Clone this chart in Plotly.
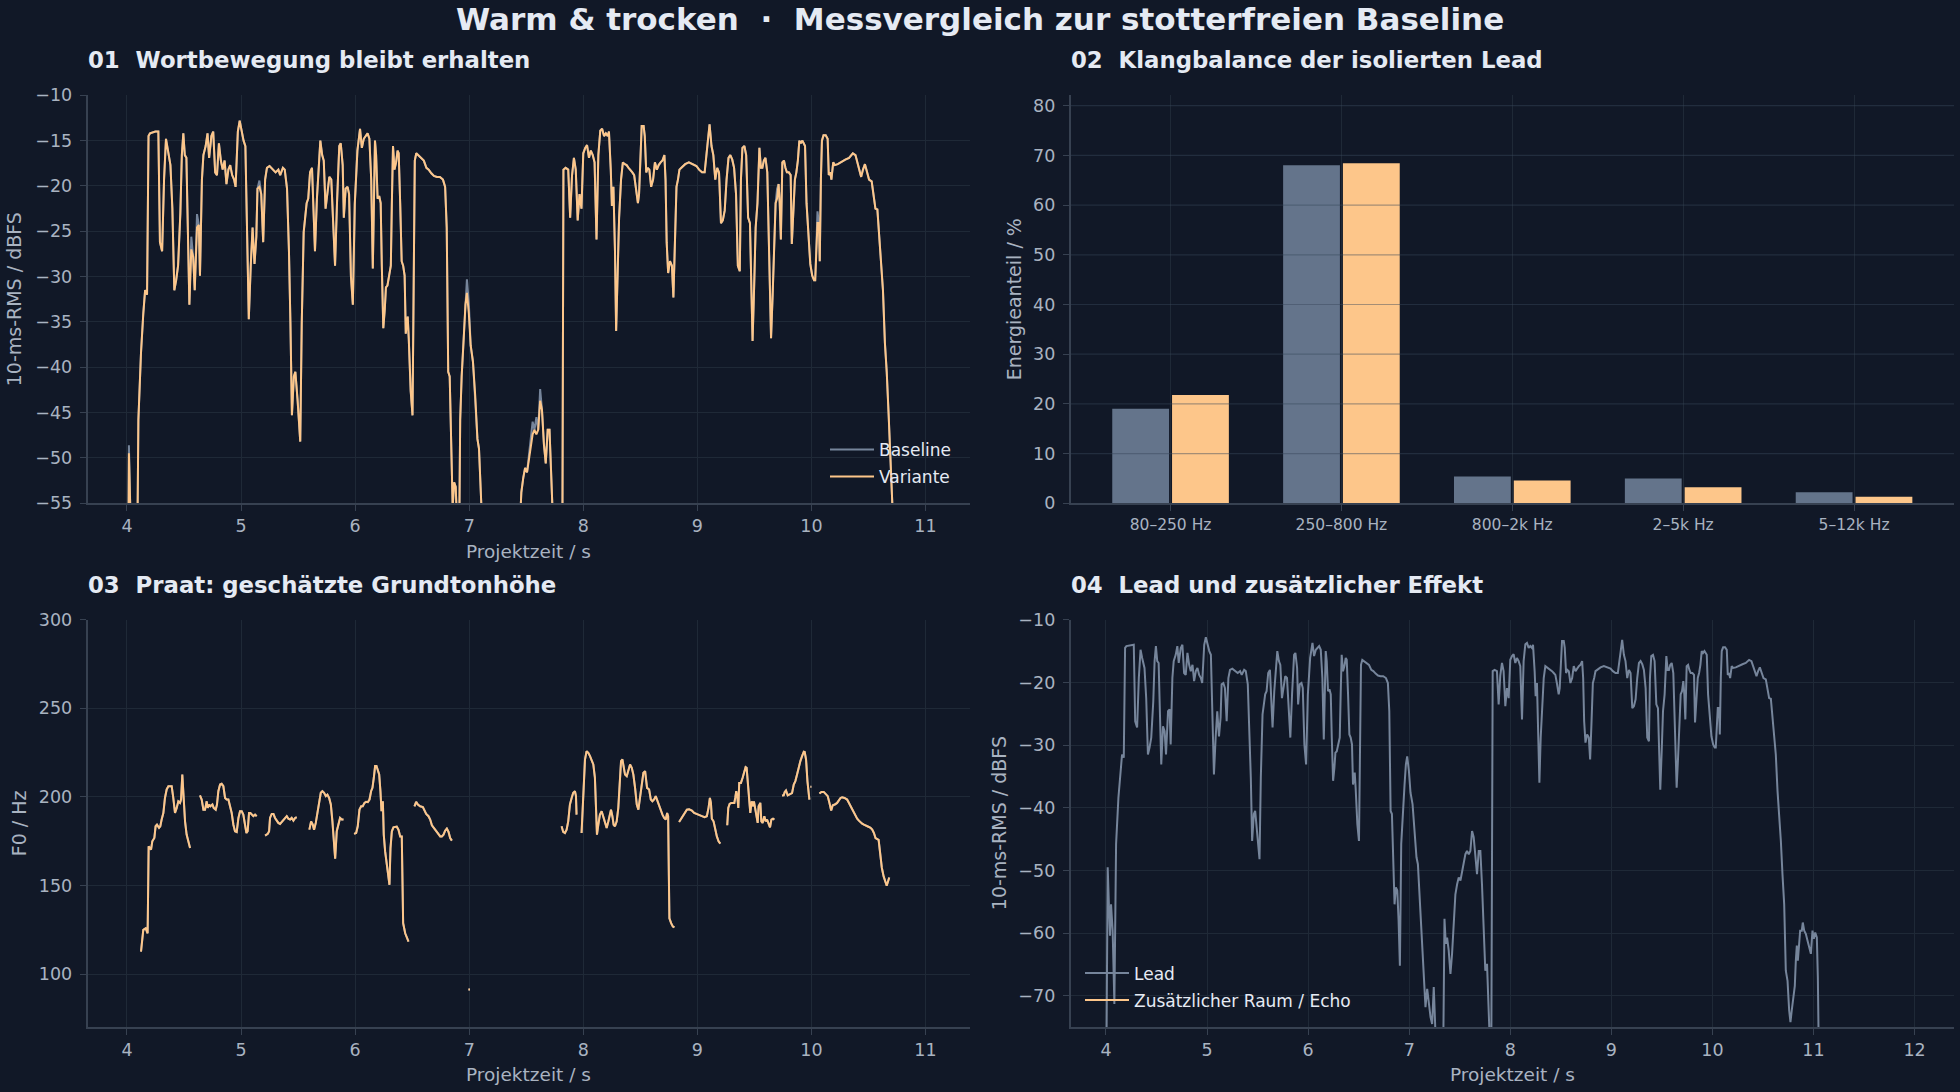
import plotly.graph_objects as go

# ---------------- data ----------------
RMS_T = [
    4.000, 4.017, 4.030, 4.040, 4.050, 4.066, 4.083, 4.100, 4.123, 4.143,
    4.159, 4.176, 4.189, 4.202, 4.249, 4.275, 4.289, 4.308, 4.325, 4.342,
    4.358, 4.381, 4.398, 4.415, 4.431, 4.448, 4.468, 4.481, 4.494, 4.507,
    4.521, 4.534, 4.547, 4.564, 4.580, 4.594, 4.614, 4.630, 4.640, 4.657,
    4.670, 4.690, 4.706, 4.720, 4.740, 4.756, 4.773, 4.789, 4.806, 4.823,
    4.839, 4.856, 4.872, 4.889, 4.905, 4.922, 4.939, 4.952, 4.972, 4.988,
    5.005, 5.022, 5.038, 5.051, 5.068, 5.085, 5.101, 5.118, 5.134, 5.144,
    5.161, 5.177, 5.194, 5.211, 5.227, 5.250, 5.277, 5.303, 5.327, 5.343,
    5.367, 5.383, 5.403, 5.420, 5.433, 5.446, 5.463, 5.476, 5.496, 5.519,
    5.532, 5.549, 5.562, 5.575, 5.589, 5.605, 5.622, 5.635, 5.648, 5.665,
    5.682, 5.695, 5.711, 5.725, 5.741, 5.758, 5.774, 5.791, 5.808, 5.824,
    5.841, 5.861, 5.874, 5.891, 5.901, 5.917, 5.934, 5.947, 5.963, 5.980,
    5.997, 6.020, 6.043, 6.059, 6.076, 6.092, 6.109, 6.125, 6.141, 6.155,
    6.164, 6.174, 6.184, 6.197, 6.211, 6.224, 6.234, 6.247, 6.260, 6.270,
    6.283, 6.299, 6.313, 6.322, 6.332, 6.345, 6.359, 6.372, 6.382, 6.395,
    6.408, 6.421, 6.434, 6.444, 6.461, 6.470, 6.487, 6.503, 6.513, 6.523,
    6.536, 6.553, 6.576, 6.602, 6.625, 6.645, 6.668, 6.691, 6.717, 6.743,
    6.770, 6.789, 6.803, 6.816, 6.829, 6.842, 6.855, 6.868, 6.882, 6.895,
    6.908, 6.921, 6.934, 6.954, 6.967, 6.980, 6.997, 7.013, 7.033, 7.053,
    7.072, 7.086, 7.105, 7.125, 7.145, 7.161, 7.178, 7.191, 7.211, 7.227,
    7.243, 7.260, 7.276, 7.336, 7.349, 7.362, 7.375, 7.391, 7.408, 7.424,
    7.441, 7.457, 7.474, 7.490, 7.507, 7.539, 7.556, 7.572, 7.589, 7.605,
    7.622, 7.638, 7.655, 7.671, 7.688, 7.704, 7.720, 7.737, 7.753, 7.770,
    7.786, 7.803, 7.812, 7.826, 7.845, 7.868, 7.885, 7.901, 7.918, 7.934,
    7.951, 7.967, 7.984, 8.000, 8.017, 8.033, 8.050, 8.066, 8.083, 8.099,
    8.116, 8.132, 8.149, 8.165, 8.182, 8.198, 8.215, 8.225, 8.241, 8.251,
    8.264, 8.278, 8.288, 8.301, 8.314, 8.331, 8.347, 8.364, 8.380, 8.397,
    8.413, 8.430, 8.446, 8.463, 8.479, 8.489, 8.499, 8.512, 8.529, 8.539,
    8.552, 8.565, 8.579, 8.595, 8.612, 8.628, 8.645, 8.661, 8.678, 8.694,
    8.711, 8.721, 8.731, 8.744, 8.760, 8.777, 8.790, 8.803, 8.817, 8.830,
    8.843, 8.860, 8.893, 8.926, 8.959, 8.992, 9.015, 9.041, 9.064, 9.081,
    9.098, 9.107, 9.124, 9.140, 9.157, 9.174, 9.190, 9.207, 9.223, 9.240,
    9.256, 9.273, 9.289, 9.306, 9.322, 9.339, 9.355, 9.372, 9.382, 9.395,
    9.412, 9.428, 9.445, 9.461, 9.474, 9.484, 9.498, 9.511, 9.527, 9.544,
    9.557, 9.570, 9.583, 9.597, 9.613, 9.626, 9.636, 9.646, 9.660, 9.673,
    9.686, 9.699, 9.712, 9.722, 9.732, 9.745, 9.759, 9.772, 9.785, 9.802,
    9.818, 9.828, 9.841, 9.855, 9.868, 9.881, 9.894, 9.907, 9.921, 9.934,
    9.944, 9.957, 9.974, 9.990, 10.007, 10.023, 10.033, 10.043, 10.053, 10.066,
    10.073, 10.083, 10.092, 10.106, 10.125, 10.142, 10.152, 10.165, 10.175, 10.191,
    10.205, 10.231, 10.264, 10.297, 10.330, 10.347, 10.363, 10.386, 10.403, 10.422,
    10.436, 10.452, 10.469, 10.488, 10.505, 10.528, 10.545, 10.561, 10.578, 10.594,
    10.611, 10.627, 10.644, 10.660, 10.677, 10.693, 10.710, 10.726, 10.743, 10.759,
    10.772, 10.785, 10.799, 10.815, 10.825, 10.835, 10.845, 10.855, 10.868, 10.884,
    10.894, 10.908, 10.924, 10.941, 10.957, 10.974, 10.990, 11.003, 11.017, 11.033,
    11.043, 11.053,
]

# Variante / Lead, 10-ms RMS in dBFS
VARIANTE_DB = [
    -90.0, -49.5, -56.0, -60.4, -55.4, -59.6, -71.3, -45.8, -38.4, -34.1,
    -31.5, -32.0, -14.5, -14.2, -14.0, -14.0, -26.2, -27.2, -19.3, -14.8,
    -16.1, -17.7, -22.5, -31.5, -30.4, -28.8, -23.0, -16.6, -14.2, -16.6,
    -16.9, -27.2, -33.1, -27.0, -27.8, -31.5, -24.6, -24.3, -29.9, -19.3,
    -16.6, -15.6, -14.2, -16.9, -14.5, -14.0, -18.5, -18.8, -15.3, -17.2,
    -18.2, -17.2, -19.8, -18.2, -17.7, -18.8, -19.3, -20.1, -14.0, -12.8,
    -14.0, -15.0, -15.6, -24.6, -34.7, -28.8, -24.6, -28.6, -25.6, -20.3,
    -20.1, -20.9, -26.2, -19.3, -18.0, -17.8, -18.2, -18.5, -18.2, -18.8,
    -18.0, -18.2, -20.3, -27.2, -35.2, -45.3, -41.0, -40.5, -43.7, -48.2,
    -35.2, -25.1, -23.5, -21.9, -21.4, -18.5, -18.0, -21.9, -27.2, -21.4,
    -18.2, -15.0, -16.6, -17.2, -22.5, -20.9, -19.0, -19.3, -23.5, -28.8,
    -21.9, -15.6, -15.3, -17.7, -23.5, -20.3, -20.1, -20.9, -29.9, -33.1,
    -22.0, -16.1, -13.7, -15.8, -14.8, -14.5, -14.2, -14.8, -19.3, -29.1,
    -19.3, -15.0, -16.6, -21.4, -21.1, -21.9, -28.8, -35.7, -33.6, -31.2,
    -31.0, -29.9, -28.8, -21.9, -15.6, -18.2, -17.4, -16.1, -16.4, -21.9,
    -28.3, -28.8, -29.9, -36.3, -34.4, -36.8, -42.6, -45.3, -29.9, -17.2,
    -16.4, -16.6, -16.9, -17.2, -18.0, -18.2, -18.6, -18.9, -19.0, -19.0,
    -19.3, -20.1, -24.6, -40.5, -41.0, -47.9, -55.4, -52.7, -53.2, -58.0,
    -65.2, -45.8, -41.0, -36.3, -33.1, -31.8, -34.1, -37.6, -39.4, -43.2,
    -47.9, -49.0, -55.4, -61.7, -68.1, -71.8, -68.9, -71.0, -73.4, -74.5,
    -68.6, -76.0, -80.0, -80.0, -57.7, -61.7, -60.7, -62.8, -66.5, -63.3,
    -57.5, -53.8, -52.2, -51.1, -51.6, -49.0, -47.4, -46.9, -47.4, -46.9,
    -43.7, -44.7, -48.5, -50.6, -46.9, -46.9, -52.2, -58.5, -66.0, -64.9,
    -72.3, -80.0, -80.0, -18.2, -18.0, -18.2, -23.5, -18.9, -16.9, -18.2,
    -23.8, -20.9, -22.5, -16.4, -15.8, -15.5, -16.9, -16.1, -16.6, -17.4,
    -25.9, -16.6, -13.9, -13.7, -14.5, -14.2, -14.5, -14.0, -18.2, -22.2,
    -20.1, -27.2, -36.0, -28.8, -23.5, -19.3, -17.4, -17.6, -17.7, -18.0,
    -18.2, -18.5, -18.8, -20.3, -21.9, -20.9, -16.6, -13.4, -13.4, -14.5,
    -18.5, -18.0, -18.2, -20.1, -19.3, -17.4, -18.2, -17.7, -17.4, -17.2,
    -16.6, -19.3, -26.2, -29.6, -28.3, -28.8, -32.3, -26.7, -20.1, -19.3,
    -18.2, -18.0, -17.6, -17.4, -17.6, -17.8, -18.2, -18.5, -18.5, -16.6,
    -14.5, -13.2, -15.6, -16.6, -19.3, -18.0, -18.5, -24.1, -23.8, -22.7,
    -19.3, -16.9, -16.6, -17.1, -18.0, -20.9, -28.8, -29.4, -19.3, -15.8,
    -15.6, -16.6, -23.5, -24.1, -31.5, -37.1, -31.0, -24.6, -21.9, -15.8,
    -18.0, -18.0, -17.2, -16.9, -18.5, -24.6, -32.0, -36.8, -32.0, -26.7,
    -21.9, -21.4, -19.8, -21.9, -25.9, -17.4, -17.2, -18.0, -18.5, -18.5,
    -18.8, -26.4, -23.5, -19.3, -18.5, -17.2, -15.0, -15.3, -15.0, -15.3,
    -15.6, -21.9, -25.1, -28.6, -29.9, -30.4, -30.4, -26.2, -24.1, -24.1,
    -28.3, -19.3, -15.0, -14.4, -14.4, -14.8, -18.8, -18.5, -19.3, -17.4,
    -17.7, -17.6, -17.3, -17.1, -16.9, -16.6, -16.4, -16.6, -17.4, -18.2,
    -19.0, -18.2, -17.6, -18.5, -19.3, -19.5, -21.4, -22.5, -22.6, -25.6,
    -28.3, -31.5, -37.3, -40.5, -45.3, -50.6, -55.4, -66.0, -67.6, -72.3,
    -74.2, -72.3, -70.2, -68.4, -64.4, -62.0, -64.4, -61.7, -59.6, -59.6,
    -58.3, -59.6, -60.1, -61.2, -62.3, -63.3, -59.6, -60.9, -59.9, -60.7,
    -67.0, -80.0,
]

# Baseline readings where it visibly departs from the Variante curve
BASELINE_DIFF_T = [4.017, 4.564, 4.614, 5.161, 6.980, 6.997, 7.539, 7.556, 7.589, 7.622, 9.699, 10.053]
BASELINE_DIFF_DB = [-48.6, -25.6, -23.1, -19.4, -30.3, -33.0, -48.0, -46.0, -45.5, -42.4, -20.3, -22.8]

# Additional room / echo track (silent, below the displayed range)
ECHO_T = [4.0, 8.0, 12.04]
ECHO_DB = [-120.0, -120.0, -120.0]

# Spectral balance of the isolated lead
BANDS = ["80–250 Hz", "250–800 Hz", "800–2k Hz", "2–5k Hz", "5–12k Hz"]
BASELINE_PCT = [19.0, 68.0, 5.4, 5.0, 2.2]
VARIANTE_PCT = [21.8, 68.4, 4.6, 3.2, 1.3]

# Praat F0 estimate (None = unvoiced)
F0_T = [
    4.123, 4.143, 4.164, 4.181, 4.190, 4.202, 4.211, 4.222, 4.240, 4.251,
    4.263, 4.281, 4.292, 4.304, 4.319, 4.333, 4.348, 4.363, 4.377, 4.392,
    4.406, 4.421, 4.436, 4.450, 4.465, 4.474, 4.485, 4.494, 4.509, 4.523,
    4.538, 4.553, None,
    4.640, 4.655, 4.670, 4.684, 4.699, 4.708, 4.719, 4.731, 4.749, 4.760,
    4.778, 4.789, 4.801, 4.816, 4.830, 4.845, 4.860, 4.874, 4.889, 4.904,
    4.918, 4.933, 4.947, 4.962, 4.977, 4.991, 5.006, 5.020, 5.035, 5.047,
    5.058, 5.070, 5.082, 5.094, 5.108, 5.123, 5.137, None,
    5.211, 5.234, 5.246, 5.254, 5.269, 5.284, 5.298, 5.313, 5.327, 5.342,
    5.357, 5.371, 5.386, 5.401, 5.415, 5.430, 5.444, 5.459, 5.474, 5.488, None,
    5.599, 5.614, 5.629, 5.640, 5.655, 5.670, 5.684, 5.699, 5.713, 5.728,
    5.743, 5.757, 5.772, 5.787, 5.801, 5.816, 5.825, 5.839, 5.854, 5.868,
    5.883, 5.898, None,
    5.991, 6.009, 6.023, 6.038, 6.053, 6.067, 6.082, 6.096, 6.111, 6.126,
    6.140, 6.152, 6.164, 6.175, 6.187, 6.199, 6.211, 6.222, 6.231, 6.243,
    6.251, 6.263, 6.278, 6.289, 6.301, 6.310, 6.322, 6.336, 6.351, 6.365,
    6.380, 6.395, 6.409, 6.415, 6.421, 6.439, 6.453, 6.468, None,
    6.520, 6.535, 6.550, 6.570, 6.594, 6.608, 6.623, 6.643, 6.658, 6.673,
    6.687, 6.702, 6.716, 6.731, 6.746, 6.760, 6.775, 6.789, 6.804, 6.819,
    6.833, 6.848, None,
    6.993, 7.007, None,
    7.810, 7.824, 7.839, 7.854, 7.868, 7.883, 7.898, 7.912, 7.927, 7.936,
    7.941, None,
    7.985, 8.000, 8.015, 8.029, 8.044, 8.059, 8.073, 8.088, 8.102, 8.111,
    8.120, 8.132, 8.146, 8.161, 8.176, 8.190, 8.205, 8.220, 8.234, 8.243,
    8.255, 8.266, 8.278, 8.293, 8.307, 8.319, 8.331, 8.343, 8.354, 8.366,
    8.381, 8.395, 8.410, 8.425, 8.439, 8.454, 8.469, 8.483, 8.498, 8.512,
    8.527, 8.542, 8.551, 8.559, 8.577, 8.592, 8.606, 8.621, 8.635, 8.650,
    8.665, 8.679, 8.694, 8.709, 8.723, 8.735, 8.744, 8.750, 8.755, 8.770,
    8.785, 8.799, None,
    8.840, 8.864, 8.887, 8.908, 8.928, 8.952, 8.972, 8.996, 9.016, 9.040,
    9.063, 9.083, 9.098, 9.110, 9.119, 9.127, 9.142, 9.157, 9.171, 9.186,
    9.201, None,
    9.262, 9.271, 9.283, 9.297, 9.312, 9.324, 9.332, 9.341, 9.350, 9.359,
    9.367, 9.382, 9.397, 9.411, 9.423, 9.432, 9.441, 9.452, 9.464, 9.476,
    9.488, 9.496, 9.505, 9.517, 9.529, 9.537, 9.552, 9.561, 9.572, 9.587,
    9.599, 9.611, 9.625, 9.637, 9.649, 9.663, 9.675, None,
    9.742, 9.757, 9.766, 9.777, 9.792, 9.807, 9.830, 9.845, 9.859, 9.874,
    9.889, 9.903, 9.918, 9.933, 9.941, 9.953, 9.965, 9.974, 9.982, None,
    9.991, 10.000, None,
    10.070, 10.088, 10.108, 10.123, 10.143, 10.158, 10.173, 10.187, 10.205, 10.225,
    10.240, 10.255, 10.269, 10.290, 10.313, 10.328, 10.343, 10.357, 10.372, 10.387,
    10.401, 10.416, 10.430, 10.445, 10.460, 10.474, 10.489, 10.504, 10.518, 10.533,
    10.548, 10.562, 10.589, 10.617, 10.633, 10.660, 10.682,
]
F0_HZ = [
    112.6, 124.9, 125.8, 123.0, 172.1, 171.1, 170.2, 174.9, 176.8, 183.4,
    184.3, 182.5, 183.4, 187.2, 190.9, 199.4, 204.2, 206.0, 206.0, 206.0,
    199.4, 190.9, 193.8, 197.5, 196.6, 198.5, 212.6, 203.2, 186.2, 178.7,
    174.0, 171.1, None,
    200.9, 198.5, 192.8, 192.8, 197.5, 193.8, 195.7, 194.7, 195.7, 193.8,
    192.8, 195.7, 203.2, 207.0, 207.4, 206.0, 199.4, 198.5, 198.5, 194.7,
    190.9, 184.3, 180.6, 180.2, 188.1, 191.9, 191.9, 190.0, 185.3, 179.6,
    180.6, 190.9, 190.9, 190.0, 189.1, 190.0, 189.1, None,
    178.1, 179.1, 180.6, 188.1, 190.4, 190.4, 188.1, 186.2, 185.3, 184.7,
    185.8, 187.2, 188.1, 189.1, 187.7, 187.2, 188.1, 186.6, 188.1, 188.5, None,
    181.5, 186.2, 184.3, 181.5, 185.3, 191.9, 198.5, 202.3, 203.2, 202.3,
    200.4, 201.3, 199.4, 195.7, 186.2, 174.9, 165.1, 180.6, 185.3, 188.1,
    187.2, 187.2, None,
    179.1, 179.6, 183.4, 192.8, 194.7, 194.7, 196.6, 197.2, 197.0, 198.5,
    203.2, 205.1, 210.8, 217.4, 217.4, 214.5, 212.6, 203.2, 191.9, 197.5,
    178.7, 169.2, 161.7, 154.2, 150.4, 171.1, 180.6, 182.8, 183.2, 183.2,
    181.5, 177.7, 177.7, 156.0, 128.7, 123.0, 120.2, 118.3, None,
    194.7, 197.2, 195.7, 194.7, 194.3, 191.9, 190.4, 189.1, 187.2, 184.0,
    182.8, 181.5, 180.2, 178.7, 177.7, 177.7, 178.7, 180.9, 182.1, 180.2,
    176.8, 175.3, None,
    91.3, 91.3, None,
    183.4, 180.2, 179.6, 181.5, 186.2, 195.7, 199.4, 202.3, 203.2, 200.4,
    190.0, None,
    179.6, 203.2, 221.1, 225.8, 224.9, 223.0, 221.1, 218.3, 210.8, 193.8,
    178.7, 184.3, 190.0, 191.9, 189.1, 185.3, 182.5, 186.2, 190.0, 192.8,
    189.1, 184.3, 183.4, 186.2, 193.8, 210.8, 220.2, 221.1, 216.4, 212.6,
    211.7, 214.5, 218.3, 216.4, 212.6, 205.1, 195.7, 192.8, 199.4, 207.0,
    213.6, 214.5, 209.8, 205.1, 204.2, 198.5, 197.5, 198.5, 200.4, 197.5,
    194.7, 192.8, 190.0, 188.1, 187.2, 190.9, 189.1, 156.0, 131.5, 128.7,
    126.8, 126.4, None,
    185.8, 188.1, 190.9, 192.8, 193.0, 192.3, 190.9, 190.4, 189.6, 189.1,
    188.5, 189.1, 193.8, 199.4, 196.6, 187.7, 186.2, 181.5, 177.7, 174.9,
    173.6, None,
    184.0, 193.8, 196.0, 196.6, 196.6, 196.6, 199.4, 203.2, 200.4, 193.8,
    207.9, 207.9, 210.8, 214.5, 216.8, 216.4, 208.9, 197.5, 190.9, 197.5,
    194.7, 197.5, 193.8, 190.9, 185.3, 194.7, 196.6, 186.2, 185.3, 189.1,
    186.2, 187.2, 184.3, 182.8, 187.2, 187.7, 187.2, None,
    200.8, 200.9, 202.8, 203.6, 200.9, 201.3, 202.1, 207.0, 208.9, 212.6,
    217.4, 220.2, 223.0, 225.5, 225.3, 221.1, 208.9, 200.4, 198.5, None,
    205.7, 205.7, None,
    201.9, 202.8, 202.8, 201.9, 200.4, 196.6, 192.3, 195.3, 195.7, 196.6,
    197.9, 199.4, 199.8, 199.4, 198.5, 196.6, 194.7, 192.8, 190.9, 189.1,
    187.7, 186.6, 185.5, 184.9, 184.3, 184.0, 183.6, 183.0, 182.5, 181.5,
    179.6, 176.8, 175.7, 160.0, 155.1, 149.8, 154.5,
]

assert len(RMS_T) == len(VARIANTE_DB), (len(RMS_T), len(VARIANTE_DB))
assert len(F0_T) == len(F0_HZ), (len(F0_T), len(F0_HZ))
for a, b in zip(F0_T, F0_HZ):
    assert (a is None) == (b is None), (a, b)

_override = dict(zip(BASELINE_DIFF_T, BASELINE_DIFF_DB))
BASELINE_DB = [_override.get(t, v) for t, v in zip(RMS_T, VARIANTE_DB)]

# ---------------- style ----------------
W, H = 1960, 1092
BG = "#111827"
GRID = "#1f2937"
SPINE = "#374151"
TICK = "#a9b3c1"
TITLE = "#e5eaf3"
GRAY_LINE = "#76859b"
ORANGE = "#fdc68a"
GRAY_BAR = "#64748b"
FONT = "DejaVu Sans"


def py(px):
    """vertical pixel position (from top) -> paper fraction, with capture correction"""
    spec = (px - 8.7) / 0.9818
    return 1 - spec / H


X_LEFT = [87.5 / W, 970 / W]
X_RIGHT = [1070.6 / W, 1954 / W]
Y_TOP = [py(502), py(94)]
Y_BOT = [py(1026), py(618.5)]


def axis(domain, anchor, **kw):
    d = dict(
        domain=domain, anchor=anchor,
        showgrid=True, gridcolor=GRID, gridwidth=1,
        showline=True, linecolor=SPINE, linewidth=1.6,
        ticks="outside", ticklen=6, tickwidth=1.3, tickcolor=SPINE,
        tickfont=dict(family=FONT, size=17.5, color=TICK),
        zeroline=False, mirror=False, fixedrange=True,
    )
    d.update(kw)
    return d


fig = go.Figure()

# Panel 1
fig.add_trace(go.Scatter(x=RMS_T, y=BASELINE_DB, mode="lines", name="Baseline",
                         line=dict(color=GRAY_LINE, width=2), xaxis="x", yaxis="y",
                         legend="legend", legendgroup="b"))
fig.add_trace(go.Scatter(x=RMS_T, y=VARIANTE_DB, mode="lines", name="Variante",
                         line=dict(color=ORANGE, width=2), xaxis="x", yaxis="y",
                         legend="legend", legendgroup="v"))
# Panel 2
fig.add_trace(go.Bar(x=BANDS, y=BASELINE_PCT, name="Baseline", marker=dict(color=GRAY_BAR, line=dict(width=0)),
                     xaxis="x2", yaxis="y2", showlegend=False))
fig.add_trace(go.Bar(x=BANDS, y=VARIANTE_PCT, name="Variante", marker=dict(color=ORANGE, line=dict(width=0)),
                     xaxis="x2", yaxis="y2", showlegend=False))
# Panel 3
fig.add_trace(go.Scatter(x=F0_T, y=F0_HZ, mode="lines", name="Baseline F0", connectgaps=False,
                         line=dict(color=GRAY_LINE, width=2), xaxis="x3", yaxis="y3", showlegend=False))
fig.add_trace(go.Scatter(x=F0_T, y=F0_HZ, mode="lines", name="Variante F0", connectgaps=False,
                         line=dict(color=ORANGE, width=2), xaxis="x3", yaxis="y3", showlegend=False))
# Panel 4
fig.add_trace(go.Scatter(x=RMS_T, y=VARIANTE_DB, mode="lines", name="Lead",
                         line=dict(color=GRAY_LINE, width=2), xaxis="x4", yaxis="y4",
                         legend="legend2", legendgroup="l"))
fig.add_trace(go.Scatter(x=ECHO_T, y=ECHO_DB, mode="lines", name="Zusätzlicher Raum / Echo",
                         line=dict(color=ORANGE, width=2), xaxis="x4", yaxis="y4",
                         legend="legend2", legendgroup="e"))

# grid lines drawn over the bars (panel 2)
shapes = []
for k in range(10, 90, 10):
    shapes.append(dict(type="line", xref="x2 domain", yref="y2", x0=0, x1=1, y0=k, y1=k,
                       line=dict(color="rgba(55,70,90,0.45)", width=1.2), layer="above"))

nb = "\u00a0"
annotations = [
    dict(text=f"<b>Warm &amp; trocken{nb}{nb}·{nb}{nb}Messvergleich zur stotterfreien Baseline</b>",
         x=980 / W, y=py(18), xref="paper", yref="paper", xanchor="center", yanchor="middle",
         showarrow=False, font=dict(family=FONT, size=31, color=TITLE)),
]
for txt, xpx, ypx in [
    (f"01{nb}{nb}Wortbewegung bleibt erhalten", 85.5, 59),
    (f"02{nb}{nb}Klangbalance der isolierten Lead", 1068.6, 59),
    (f"03{nb}{nb}Praat: geschätzte Grundtonhöhe", 85.5, 584),
    (f"04{nb}{nb}Lead und zusätzlicher Effekt", 1068.6, 584),
]:
    annotations.append(dict(text=f"<b>{txt}</b>", x=xpx / W, y=py(ypx), xref="paper", yref="paper",
                            xanchor="left", yanchor="middle", showarrow=False,
                            font=dict(family=FONT, size=22.8, color=TITLE)))
for txt, xpx, ypx in [
    ("Projektzeit / s", 528.75, 550),
    ("Projektzeit / s", 528.75, 1073),
    ("Projektzeit / s", 1512.3, 1073),
]:
    annotations.append(dict(text=txt, x=xpx / W, y=py(ypx), xref="paper", yref="paper",
                            xanchor="center", yanchor="middle", showarrow=False,
                            font=dict(family=FONT, size=18.5, color=TICK)))
for txt, xpx, ypx in [
    ("10-ms-RMS / dBFS", 14, 298),
    ("Energieanteil / %", 1014, 298),
    ("F0 / Hz", 19, 822),
    ("10-ms-RMS / dBFS", 999, 822),
]:
    annotations.append(dict(text=txt, x=xpx / W, y=py(ypx), xref="paper", yref="paper",
                            xanchor="center", yanchor="middle", textangle=-90, showarrow=False,
                            font=dict(family=FONT, size=19, color=TICK)))

legend_common = dict(xanchor="left", yanchor="top", bgcolor="rgba(0,0,0,0)",
                     font=dict(family=FONT, size=17, color=TITLE),
                     traceorder="grouped", tracegroupgap=2, itemwidth=44)

fig.update_layout(
    width=W, height=H,
    paper_bgcolor=BG, plot_bgcolor=BG,
    margin=dict(l=0, r=0, t=0, b=0),
    font=dict(family=FONT, color=TICK),
    showlegend=True,
    barmode="group", bargap=0.3, bargroupgap=0.05,
    hovermode=False,
    xaxis=axis(X_LEFT, "y", range=[3.654, 11.39], tickvals=list(range(4, 12))),
    yaxis=axis(Y_TOP, "x", range=[-55, -10], tickvals=list(range(-55, -9, 5)), ticklabelstandoff=4),
    xaxis2=axis(X_RIGHT, "y2", type="category", range=[-0.585, 4.585],
                tickfont=dict(family=FONT, size=15.5, color=TICK)),
    yaxis2=axis(Y_TOP, "x2", range=[0, 82.1], tickvals=list(range(0, 81, 10)), showgrid=False,
                ticklabelstandoff=4),
    xaxis3=axis(X_LEFT, "y3", range=[3.654, 11.39], tickvals=list(range(4, 12))),
    yaxis3=axis(Y_BOT, "x3", range=[70, 300], tickvals=[100, 150, 200, 250, 300], ticklabelstandoff=4),
    xaxis4=axis(X_RIGHT, "y4", range=[3.65, 12.39], tickvals=list(range(4, 13))),
    yaxis4=axis(Y_BOT, "x4", range=[-75, -10], tickvals=list(range(-70, -9, 10)), ticklabelstandoff=4),
    legend=dict(x=825 / W, y=1 - 429.7 / H, **legend_common),
    legend2=dict(x=1080 / W, y=1 - 963 / H, **legend_common),
    shapes=shapes,
    annotations=annotations,
)

POST = (
    "document.documentElement.style.margin='0';"
    "document.body.style.margin='0';document.body.style.padding='0';"
    "document.body.style.overflow='hidden';document.body.style.background='#111827';"
    "var gd=document.getElementById('{plot_id}');"
    "gd.style.position='absolute';gd.style.left='0px';gd.style.top='0px';"
)

fig.write_html("out.html", post_script=POST, config={"displayModeBar": False})
